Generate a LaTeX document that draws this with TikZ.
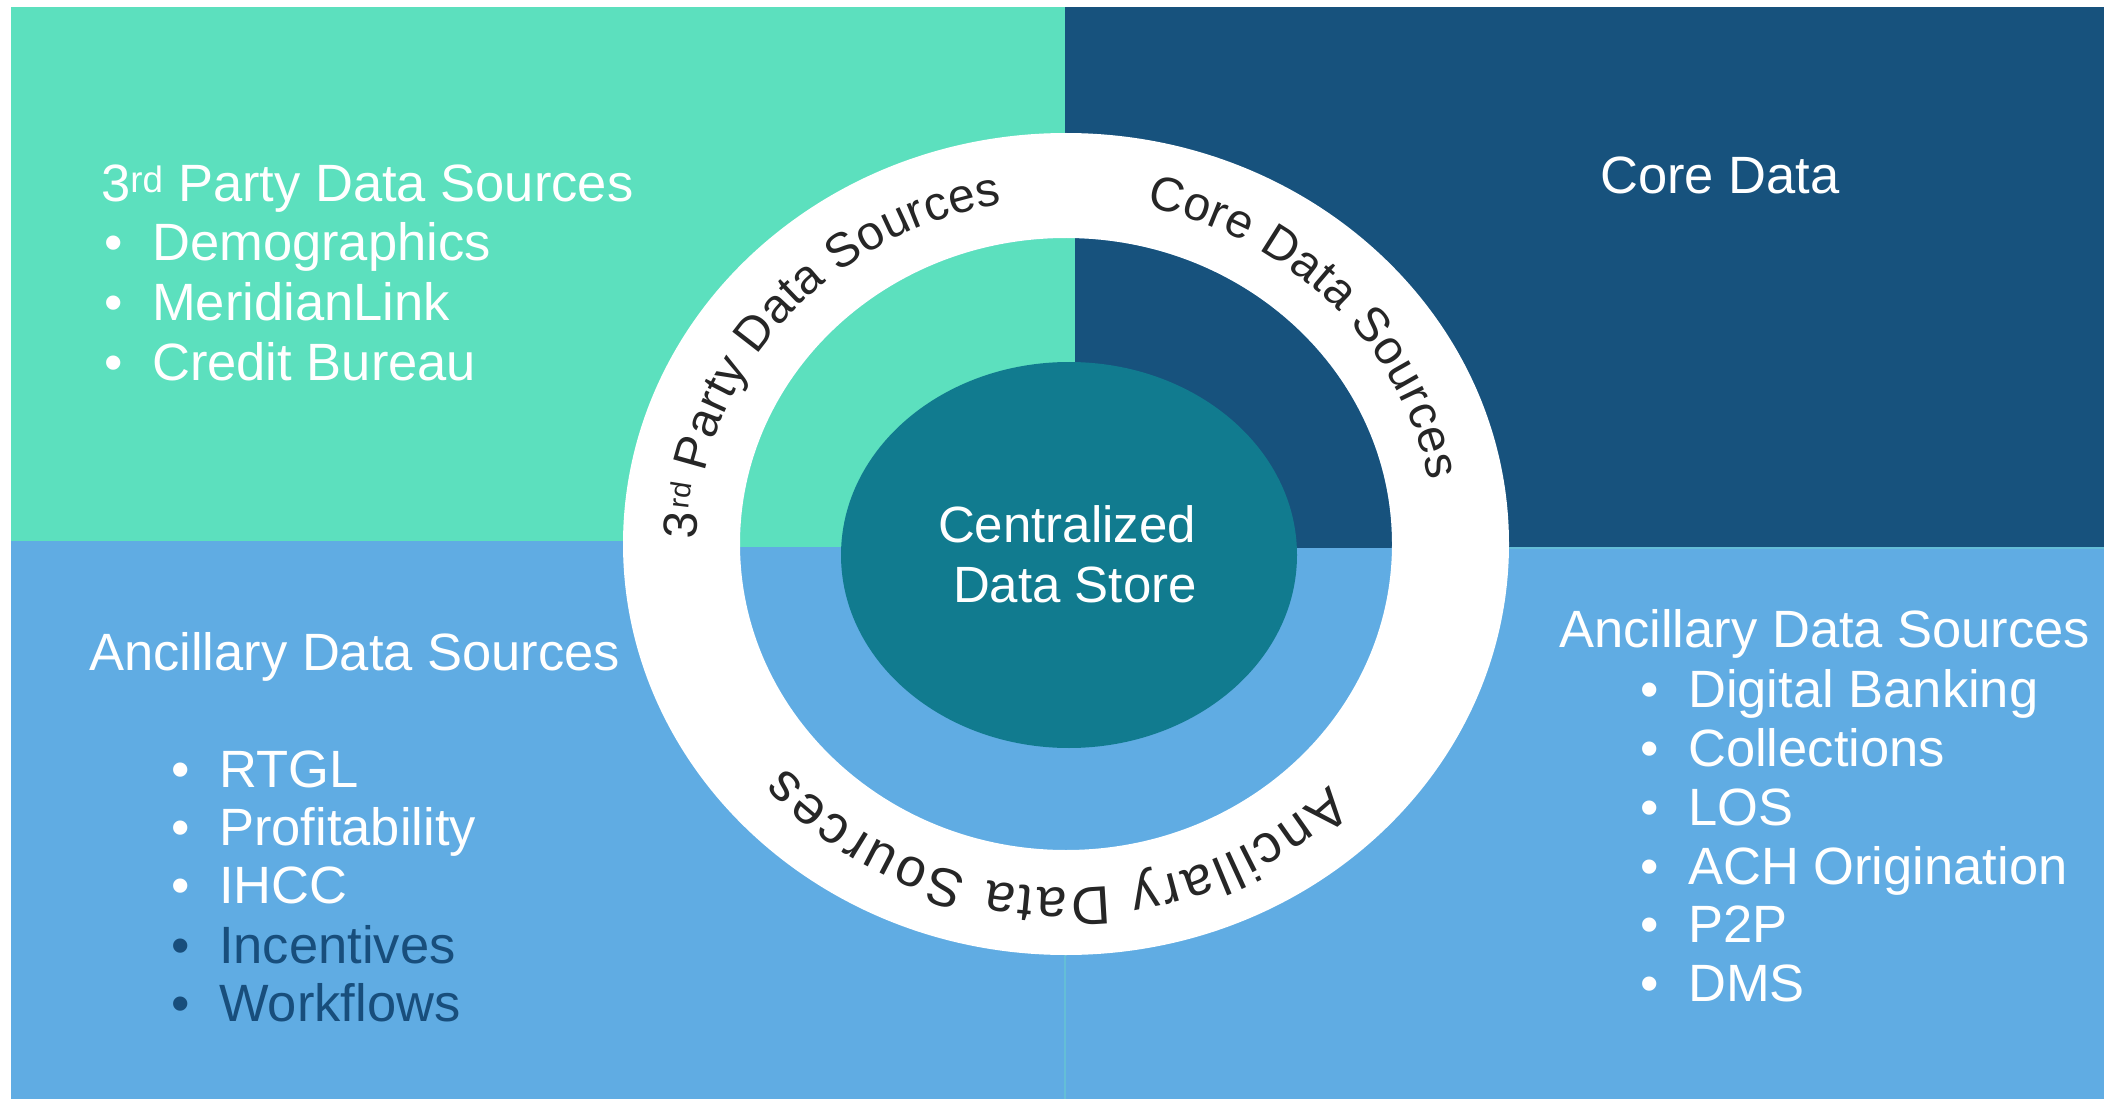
\documentclass[tikz,border=0pt]{standalone}
\usepackage{fontspec}
\setmainfont{Liberation Sans}
\usetikzlibrary{decorations.text}
\definecolor{cteal}{RGB}{92,224,190}
\definecolor{cdark}{RGB}{23,82,125}
\definecolor{cblue}{RGB}{96,172,227}
\definecolor{ccenter}{RGB}{17,123,143}
\definecolor{cdarktext}{RGB}{24,78,124}
\definecolor{cring}{RGB}{38,38,38}
\definecolor{cline}{RGB}{100,190,215}
\newcommand\quadfont{\fontsize{52.5}{60}\selectfont}
\newcommand\centfont{\fontsize{51}{60}\selectfont}
\newcommand\ringfontA{\fontsize{48}{50}\selectfont}
\newcommand\ringfontB{\fontsize{29}{30}\selectfont}
\newcommand\ringfontC{\fontsize{54}{56}\selectfont}
\newcommand\qbul{\makebox[48pt][l]{\textbullet}}
\tikzset{
  quadtext/.style={anchor=base west, inner sep=0pt, text=white, font=\quadfont},
  darkitem/.style={quadtext, text=cdarktext},
  centertext/.style={anchor=base, inner sep=0pt, text=white, font=\centfont},
  ringtext/.style={decorate, decoration={text along path, text color=cring, text align={fit to path}, text={|\ringfontA|#1}}},
  ringtextbig/.style={decorate, decoration={text along path, text color=cring, text align={fit to path}, text={|\ringfontC|#1}}},
  ringtextleft/.style={decorate, decoration={text along path, text color=cring, text align=left, text={|\ringfontA|#1}}},
  ringsup/.style={decorate, decoration={text along path, text color=cring, text align=left, raise=10pt, text={|\ringfontB|#1}}}
}
\begin{document}
\begin{tikzpicture}[x=1pt,y=-1pt]
\useasboundingbox (0,0) rectangle (2113,1099);
\fill[white] (0,0) rectangle (2113,1099);
% quadrants
\fill[cteal] (11,7) rectangle (1065,541);
\fill[cdark] (1065,7) rectangle (2104,548);
\fill[cblue] (11,541) rectangle (1065,1099);
\fill[cblue] (1065,548) rectangle (2104,1099);
\draw[cline, line width=2pt] (1065,548) -- (2104,548);
\draw[cline, line width=2pt] (1065,548) -- (1065,1099);
% ring
\begin{scope}[shift={(1066,544)}, y=1pt]
  \begin{scope}
    \clip (0,0) ellipse[x radius=326, y radius=306];
    \fill[cblue] (-460,420) rectangle (460,-420);
    \fill[cteal] (-460,420) rectangle (9,-3);
    \fill[cdark] (9,420) rectangle (460,-4);
  \end{scope}
  \fill[white, even odd rule] (0,0) ellipse[x radius=443, y radius=411] (0,0) ellipse[x radius=326, y radius=306];
\end{scope}
\begin{scope}[shift={(1066,544)}, x=1.07pt, y=1pt]
  % curved labels
  \path[ringtextleft={3}] (179.3:345) arc[start angle=179.3, end angle=174.2, radius=345];
  \path[ringsup={rd}] (174.5:345) arc[start angle=174.5, end angle=169.2, radius=345];
  \path[ringtext={Party Data Sources}] (168:345) arc[start angle=168, end angle=100, radius=345];
  \path[ringtext={Core Data Sources}] (77.5:345) arc[start angle=77.5, end angle=10.5, radius=345];
  \path[ringtextbig={Ancillary Data Sources}] (-44.4:344) arc[start angle=-44.4, end angle=-139.5, radius=344];
\end{scope}
% centre
\fill[ccenter] (1069,555) ellipse[x radius=228, y radius=193];
\node[centertext] (cen1) at (1067,542) {Centralized};
\node[centertext] (cen2) at (1075,602) {Data Store};
% top left
\node[quadtext] (tlhead) at (101,202) {3\textsuperscript{rd} Party Data Sources};
\node[quadtext] (tl1) at (104,261) {\qbul Demographics};
\node[quadtext] (tl2) at (104,321) {\qbul MeridianLink};
\node[quadtext] (tl3) at (104,381) {\qbul Credit Bureau};
% top right
\node[quadtext] (trhead) at (1600,194) {Core Data};
% bottom left
\node[quadtext] (blhead) at (89,670) {Ancillary Data Sources};
\node[quadtext] (bl1) at (171,787) {\qbul RTGL};
\node[quadtext] (bl2) at (171,845) {\qbul Profitability};
\node[quadtext] (bl3) at (171,903) {\qbul IHCC};
\node[darkitem] (bl4) at (171,963) {\qbul Incentives};
\node[darkitem] (bl5) at (171,1021) {\qbul Workflows};
% bottom right
\node[quadtext] (brhead) at (1559,647) {Ancillary Data Sources};
\node[quadtext] (br1) at (1640,707) {\qbul Digital Banking};
\node[quadtext] (br2) at (1640,766) {\qbul Collections};
\node[quadtext] (br3) at (1640,825) {\qbul LOS};
\node[quadtext] (br4) at (1640,884) {\qbul ACH Origination};
\node[quadtext] (br5) at (1640,942) {\qbul P2P};
\node[quadtext] (br6) at (1640,1001) {\qbul DMS};
\end{tikzpicture}
\end{document}
